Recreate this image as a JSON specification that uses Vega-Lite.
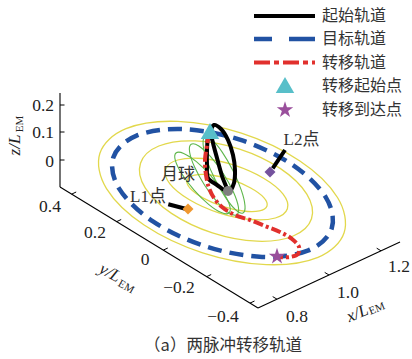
{
"$schema": "https://vega.github.io/schema/vega-lite/v6.json",
"width": 412, "height": 359,
"autosize": {"type": "fit", "contains": "padding"},
"padding": 0,
"background": "white",
"config": {"view": {"stroke": null}},
"datasets": {
"rings": [
{"k":"yellow","r":"y1","o":1,"x":344.1,"y":232.7},{"k":"yellow","r":"y1","o":2,"x":318,"y":257.3},{"k":"yellow","r":"y1","o":3,"x":266.2,"y":264.6},{"k":"yellow","r":"y1","o":4,"x":202.6,"y":252.8},{"k":"yellow","r":"y1","o":5,"x":144.1,"y":225},{"k":"yellow","r":"y1","o":6,"x":106.5,"y":188.6},{"k":"yellow","r":"y1","o":7,"x":99.9,"y":153.3},{"k":"yellow","r":"y1","o":8,"x":126,"y":128.7},{"k":"yellow","r":"y1","o":9,"x":177.8,"y":121.4},{"k":"yellow","r":"y1","o":10,"x":241.4,"y":133.2},{"k":"yellow","r":"y1","o":11,"x":299.9,"y":161},{"k":"yellow","r":"y1","o":12,"x":337.5,"y":197.5},
{"k":"yellow","r":"y2","o":1,"x":311.5,"y":218.8},{"k":"yellow","r":"y2","o":2,"x":293.2,"y":236},{"k":"yellow","r":"y2","o":3,"x":257,"y":241.2},{"k":"yellow","r":"y2","o":4,"x":212.4,"y":232.9},{"k":"yellow","r":"y2","o":5,"x":171.5,"y":213.4},{"k":"yellow","r":"y2","o":6,"x":145.2,"y":187.9},{"k":"yellow","r":"y2","o":7,"x":140.5,"y":163.2},{"k":"yellow","r":"y2","o":8,"x":158.8,"y":146},{"k":"yellow","r":"y2","o":9,"x":195.1,"y":140.9},{"k":"yellow","r":"y2","o":10,"x":239.6,"y":149.1},{"k":"yellow","r":"y2","o":11,"x":280.5,"y":168.6},{"k":"yellow","r":"y2","o":12,"x":306.8,"y":194.1},
{"k":"yellow","r":"y3","o":1,"x":287.4,"y":208.8},{"k":"yellow","r":"y3","o":2,"x":275.3,"y":218},{"k":"yellow","r":"y3","o":3,"x":250.3,"y":219.5},{"k":"yellow","r":"y3","o":4,"x":218.8,"y":212.8},{"k":"yellow","r":"y3","o":5,"x":189.4,"y":199.7},{"k":"yellow","r":"y3","o":6,"x":169.9,"y":183.8},{"k":"yellow","r":"y3","o":7,"x":165.6,"y":169.2},{"k":"yellow","r":"y3","o":8,"x":177.7,"y":160},{"k":"yellow","r":"y3","o":9,"x":202.8,"y":158.5},{"k":"yellow","r":"y3","o":10,"x":234.2,"y":165.2},{"k":"yellow","r":"y3","o":11,"x":263.6,"y":178.3},{"k":"yellow","r":"y3","o":12,"x":283.1,"y":194.2},
{"k":"yellow","r":"y4","o":1,"x":267,"y":206},{"k":"yellow","r":"y4","o":2,"x":259.4,"y":210.9},{"k":"yellow","r":"y4","o":3,"x":243.2,"y":211},{"k":"yellow","r":"y4","o":4,"x":222.7,"y":206.3},{"k":"yellow","r":"y4","o":5,"x":203.3,"y":198.1},{"k":"yellow","r":"y4","o":6,"x":190.2,"y":188.4},{"k":"yellow","r":"y4","o":7,"x":187.1,"y":180},{"k":"yellow","r":"y4","o":8,"x":194.6,"y":175.1},{"k":"yellow","r":"y4","o":9,"x":210.8,"y":175},{"k":"yellow","r":"y4","o":10,"x":231.3,"y":179.7},{"k":"yellow","r":"y4","o":11,"x":250.7,"y":188},{"k":"yellow","r":"y4","o":12,"x":263.8,"y":197.6},
{"k":"green","r":"g1","o":1,"x":229,"y":213},{"k":"green","r":"g1","o":2,"x":221.3,"y":212.6},{"k":"green","r":"g1","o":3,"x":208.6,"y":204.3},{"k":"green","r":"g1","o":4,"x":194.3,"y":190.3},{"k":"green","r":"g1","o":5,"x":182.1,"y":174.3},{"k":"green","r":"g1","o":6,"x":175.4,"y":160.7},{"k":"green","r":"g1","o":7,"x":176,"y":153},{"k":"green","r":"g1","o":8,"x":183.7,"y":153.4},{"k":"green","r":"g1","o":9,"x":196.4,"y":161.7},{"k":"green","r":"g1","o":10,"x":210.7,"y":175.7},{"k":"green","r":"g1","o":11,"x":222.9,"y":191.7},{"k":"green","r":"g1","o":12,"x":229.6,"y":205.3},
{"k":"green","r":"g2","o":1,"x":236.9,"y":214.7},{"k":"green","r":"g2","o":2,"x":229.2,"y":213},{"k":"green","r":"g2","o":3,"x":217.5,"y":202.3},{"k":"green","r":"g2","o":4,"x":204.8,"y":185.5},{"k":"green","r":"g2","o":5,"x":194.6,"y":167.1},{"k":"green","r":"g2","o":6,"x":189.6,"y":152},{"k":"green","r":"g2","o":7,"x":191.1,"y":144.3},{"k":"green","r":"g2","o":8,"x":198.8,"y":146},{"k":"green","r":"g2","o":9,"x":210.6,"y":156.7},{"k":"green","r":"g2","o":10,"x":223.2,"y":173.5},{"k":"green","r":"g2","o":11,"x":233.4,"y":191.9},{"k":"green","r":"g2","o":12,"x":238.4,"y":207},
{"k":"green","r":"g3","o":1,"x":243,"y":213},{"k":"green","r":"g3","o":2,"x":236,"y":210.2},{"k":"green","r":"g3","o":3,"x":225.8,"y":197.9},{"k":"green","r":"g3","o":4,"x":215.1,"y":179.5},{"k":"green","r":"g3","o":5,"x":206.7,"y":159.9},{"k":"green","r":"g3","o":6,"x":203.1,"y":144.3},{"k":"green","r":"g3","o":7,"x":205,"y":137},{"k":"green","r":"g3","o":8,"x":212,"y":139.9},{"k":"green","r":"g3","o":9,"x":222.2,"y":152.1},{"k":"green","r":"g3","o":10,"x":232.9,"y":170.5},{"k":"green","r":"g3","o":11,"x":241.3,"y":190.1},{"k":"green","r":"g3","o":12,"x":245,"y":205.7}
],
"target": [
{"o":1,"x":331.7,"y":228.5},{"o":2,"x":308.4,"y":250.4},{"o":3,"x":262.1,"y":256.9},{"o":4,"x":205.2,"y":246.3},{"o":5,"x":152.9,"y":221.4},{"o":6,"x":119.3,"y":188.9},{"o":7,"x":113.3,"y":157.5},{"o":8,"x":136.6,"y":135.7},{"o":9,"x":182.9,"y":129.1},{"o":10,"x":239.8,"y":139.7},{"o":11,"x":292.1,"y":164.6},{"o":12,"x":325.7,"y":197.1}
],
"start": [
{"o":1,"x":208,"y":134},{"o":2,"x":207,"y":150},{"o":3,"x":207,"y":165},{"o":4,"x":208,"y":178},{"o":5,"x":217,"y":185},{"o":6,"x":227,"y":191},{"o":7,"x":222,"y":176},{"o":8,"x":217,"y":158},{"o":9,"x":213,"y":143},{"o":10,"x":211,"y":132},{"o":11,"x":214,"y":125},{"o":12,"x":221,"y":129},{"o":13,"x":228,"y":140},{"o":14,"x":233,"y":155},{"o":15,"x":235,"y":170},{"o":16,"x":234,"y":183},{"o":17,"x":230,"y":192}
],
"transfer": [
{"o":1,"x":209,"y":133},{"o":2,"x":207,"y":145},{"o":3,"x":205,"y":160},{"o":4,"x":206,"y":175},{"o":5,"x":209,"y":188},{"o":6,"x":214,"y":198},{"o":7,"x":222,"y":207},{"o":8,"x":235,"y":215},{"o":9,"x":250,"y":220},{"o":10,"x":265,"y":226},{"o":11,"x":280,"y":232},{"o":12,"x":292,"y":239},{"o":13,"x":299,"y":247},{"o":14,"x":298,"y":254},{"o":15,"x":290,"y":257},{"o":16,"x":278,"y":257}
],
"axes": [
{"x":60,"y":93,"x2":60,"y2":187},{"x":60,"y":187,"x2":258,"y2":308},{"x":258,"y":308,"x2":400,"y2":242}
],
"ticks": [
{"x":60,"y":105,"x2":64.5,"y2":105},{"x":60,"y":132,"x2":64.5,"y2":132},{"x":60,"y":160,"x2":64.5,"y2":160},
{"x":71.7,"y":194.1,"x2":76.2,"y2":192},{"x":116.7,"y":221.6,"x2":121.2,"y2":219.5},{"x":163.3,"y":250.1,"x2":167.8,"y2":248},{"x":206.7,"y":276.6,"x2":211.2,"y2":274.5},{"x":250,"y":303.1,"x2":254.5,"y2":301},
{"x":277,"y":299.2,"x2":272.7,"y2":296.6},{"x":329,"y":275,"x2":324.7,"y2":272.4},{"x":381,"y":250.8,"x2":376.7,"y2":248.2}
],
"zlabels": [{"x":54,"y":106,"t":"0.2"},{"x":54,"y":133,"t":"0.1"},{"x":54,"y":162,"t":"0"}],
"xylabels": [{"x":50,"y":207,"t":"0.4"},{"x":95,"y":233,"t":"0.2"},{"x":145,"y":260,"t":"0"},{"x":179,"y":288,"t":"−0.2"},{"x":223,"y":317,"t":"−0.4"},{"x":297,"y":317,"t":"0.8"},{"x":348,"y":293,"t":"1.0"},{"x":399,"y":266.5,"t":"1.2"}],
"ztitle": [{"x":15,"y":145,"t":"z/L"}], "ztitlesub": [{"x":20,"y":124,"t":"EM"}],
"ytitle": [{"x":110,"y":273,"t":"y/L"}], "ytitlesub": [{"x":126,"y":287,"t":"EM"}],
"xtitle": [{"x":357.5,"y":313.5,"t":"x/L"}], "xtitlesub": [{"x":377,"y":309,"t":"EM"}],
"pointers": [{"x":168.3,"y":204.3,"x2":187.3,"y2":209.3},{"x":285,"y":150,"x2":272.7,"y2":168.3}],
"places": [{"x":178,"y":175,"t":"月球"},{"x":148,"y":197,"t":"L1点"},{"x":301.5,"y":140,"t":"L2点"}],
"l1": [{"x":188,"y":209}], "l2": [{"x":270,"y":172}], "moon": [{"x":228,"y":191}],
"depart": [{"x":210,"y":131},{"x":285,"y":85}],
"arrive": [{"x":277,"y":256.5},{"x":285,"y":110}],
"legblack": [{"x":254,"y":16,"x2":315}], "legblue": [{"x":254,"y":39,"x2":315}], "legred": [{"x":254,"y":62.5,"x2":315}],
"legtext": [{"x":322,"y":16,"t":"起始轨道"},{"x":322,"y":39,"t":"目标轨道"},{"x":322,"y":62.5,"t":"转移轨道"},{"x":322,"y":86,"t":"转移起始点"},{"x":322,"y":110,"t":"转移到达点"}],
"caption": [{"x":223,"y":346,"t":"（a）两脉冲转移轨道"}]
},
"encoding": {
"x": {"field":"x","type":"quantitative","scale":{"domain":[0,412],"nice":false,"zero":false},"axis":null},
"y": {"field":"y","type":"quantitative","scale":{"domain":[0,359],"nice":false,"zero":false,"reverse":true},"axis":null}
},
"layer": [
{"data":{"name":"rings"},"transform":[{"filter":"datum.k === 'yellow'"}],"mark":{"type":"line","interpolate":"cardinal-closed","stroke":"#e2d84c","strokeWidth":1.3},"encoding":{"detail":{"field":"r","type":"nominal"},"order":{"field":"o","type":"quantitative"}}},
{"data":{"name":"rings"},"transform":[{"filter":"datum.k === 'green'"}],"mark":{"type":"line","interpolate":"cardinal-closed","stroke":"#5db64a","strokeWidth":1.1},"encoding":{"detail":{"field":"r","type":"nominal"},"order":{"field":"o","type":"quantitative"}}},
{"data":{"name":"target"},"mark":{"type":"line","interpolate":"cardinal-closed","stroke":"#2152a3","strokeWidth":4.5,"strokeDash":[14,8]},"encoding":{"order":{"field":"o"}}},
{"data":{"name":"start"},"mark":{"type":"line","interpolate":"catmull-rom","stroke":"black","strokeWidth":4},"encoding":{"order":{"field":"o"}}},
{"data":{"name":"moon"},"mark":{"type":"point","shape":"circle","filled":true,"color":"#7f7f7f","opacity":1,"size":100},"encoding":{}},
{"data":{"name":"transfer"},"mark":{"type":"line","interpolate":"catmull-rom","stroke":"#e1302d","strokeWidth":4,"strokeDash":[10,3,3,3]},"encoding":{"order":{"field":"o"}}},
{"data":{"name":"axes"},"mark":{"type":"rule","color":"black","strokeWidth":1.1},"encoding":{"x2":{"field":"x2"},"y2":{"field":"y2"}}},
{"data":{"name":"ticks"},"mark":{"type":"rule","color":"black","strokeWidth":1},"encoding":{"x2":{"field":"x2"},"y2":{"field":"y2"}}},
{"data":{"name":"pointers"},"mark":{"type":"rule","color":"black","strokeWidth":4},"encoding":{"x2":{"field":"x2"},"y2":{"field":"y2"}}},
{"data":{"name":"l1"},"mark":{"type":"point","shape":"diamond","filled":true,"color":"#f0982f","opacity":1,"size":120},"encoding":{}},
{"data":{"name":"l2"},"mark":{"type":"point","shape":"diamond","filled":true,"color":"#74529d","opacity":1,"size":120},"encoding":{}},
{"data":{"name":"depart"},"mark":{"type":"point","shape":"triangle-up","filled":true,"color":"#58bfc9","opacity":1,"size":340},"encoding":{}},
{"data":{"name":"arrive"},"mark":{"type":"point","shape":"M0,-1L0.2245,-0.309L0.951,-0.309L0.363,0.118L0.588,0.809L0,0.382L-0.588,0.809L-0.363,0.118L-0.951,-0.309L-0.2245,-0.309Z","filled":true,"color":"#9a4f9c","opacity":1,"size":300},"encoding":{}},
{"data":{"name":"legblack"},"mark":{"type":"rule","color":"black","strokeWidth":4},"encoding":{"x2":{"field":"x2"}}},
{"data":{"name":"legblue"},"mark":{"type":"rule","color":"#2152a3","strokeWidth":4.5,"strokeDash":[18,17,26,17]},"encoding":{"x2":{"field":"x2"}}},
{"data":{"name":"legred"},"mark":{"type":"rule","color":"#e1302d","strokeWidth":4,"strokeDash":[16,4,5,4]},"encoding":{"x2":{"field":"x2"}}},
{"data":{"name":"legtext"},"mark":{"type":"text","align":"left","baseline":"middle","font":"Noto Sans CJK SC","fontSize":16,"color":"#333333"},"encoding":{"text":{"field":"t"}}},
{"data":{"name":"places"},"mark":{"type":"text","align":"center","baseline":"middle","font":"Liberation Serif, Noto Sans CJK SC","fontSize":17,"color":"#333333"},"encoding":{"text":{"field":"t"}}},
{"data":{"name":"zlabels"},"mark":{"type":"text","align":"right","baseline":"middle","font":"Liberation Serif","fontSize":17.5,"color":"#222222"},"encoding":{"text":{"field":"t"}}},
{"data":{"name":"xylabels"},"mark":{"type":"text","align":"center","baseline":"middle","font":"Liberation Serif","fontSize":17.5,"color":"#222222"},"encoding":{"text":{"field":"t"}}},
{"data":{"name":"ztitle"},"mark":{"type":"text","align":"center","baseline":"middle","angle":270,"font":"Liberation Serif","fontStyle":"italic","fontSize":17,"color":"#222222"},"encoding":{"text":{"field":"t"}}},
{"data":{"name":"ztitlesub"},"mark":{"type":"text","align":"center","baseline":"middle","angle":270,"font":"Liberation Serif","fontSize":11,"color":"#222222"},"encoding":{"text":{"field":"t"}}},
{"data":{"name":"ytitle"},"mark":{"type":"text","align":"center","baseline":"middle","angle":29,"font":"Liberation Serif","fontStyle":"italic","fontSize":17,"color":"#222222"},"encoding":{"text":{"field":"t"}}},
{"data":{"name":"ytitlesub"},"mark":{"type":"text","align":"center","baseline":"middle","angle":29,"font":"Liberation Serif","fontSize":11,"color":"#222222"},"encoding":{"text":{"field":"t"}}},
{"data":{"name":"xtitle"},"mark":{"type":"text","align":"center","baseline":"middle","angle":338,"font":"Liberation Serif","fontStyle":"italic","fontSize":17,"color":"#222222"},"encoding":{"text":{"field":"t"}}},
{"data":{"name":"xtitlesub"},"mark":{"type":"text","align":"center","baseline":"middle","angle":338,"font":"Liberation Serif","fontSize":11,"color":"#222222"},"encoding":{"text":{"field":"t"}}},
{"data":{"name":"caption"},"mark":{"type":"text","align":"center","baseline":"middle","font":"Noto Sans CJK SC","fontSize":16.5,"color":"#333333"},"encoding":{"text":{"field":"t"}}}
]
}
